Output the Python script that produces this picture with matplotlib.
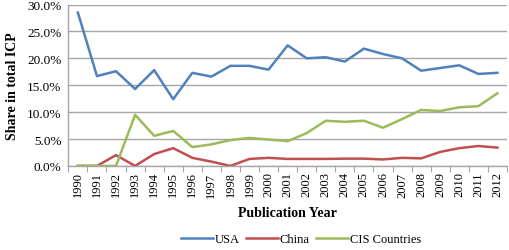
import matplotlib
matplotlib.use("Agg")
import matplotlib.pyplot as plt
from matplotlib.ticker import FuncFormatter, MultipleLocator, FixedLocator

years = [str(y) for y in range(1990, 2013)]
usa = [28.5, 16.7, 17.6, 14.3, 17.8, 12.4, 17.3, 16.6, 18.6, 18.6, 17.9, 22.4,
       20.0, 20.2, 19.4, 21.8, 20.8, 20.0, 17.7, 18.2, 18.7, 17.1, 17.3]
china = [0.0, 0.0, 2.0, 0.0, 2.2, 3.3, 1.5, 0.8, 0.0, 1.3, 1.5, 1.3,
         1.3, 1.3, 1.35, 1.35, 1.2, 1.5, 1.4, 2.6, 3.3, 3.7, 3.4]
cis = [0.0, 0.0, 0.0, 9.5, 5.6, 6.5, 3.5, 4.0, 4.8, 5.2, 4.9, 4.6,
       6.1, 8.4, 8.2, 8.4, 7.1, 8.7, 10.4, 10.2, 10.9, 11.1, 13.5]

plt.rcParams['font.family'] = ['Liberation Serif', 'DejaVu Serif']

fig = plt.figure(figsize=(5.10, 2.51), dpi=100)
ax = fig.add_axes([0.134, 0.335, 0.860, 0.643])

x = list(range(len(years)))
ax.plot(x, usa, color='#4F81BD', lw=1.8, label='USA')
ax.plot(x, china, color='#C0504D', lw=1.8, label='China')
ax.plot(x, cis, color='#9BBB59', lw=1.8, label='CIS Countries')

ax.set_xlim(-0.5, len(years) - 0.5)
ax.set_ylim(0, 30)
ax.yaxis.set_major_locator(MultipleLocator(5))
ax.yaxis.set_major_formatter(FuncFormatter(lambda v, p: f"{v:.1f}%"))
ax.grid(axis='y', color='#A6A6A6', lw=1.0)
ax.set_axisbelow(True)

ax.set_xticks(x)
ax.set_xticklabels(years, rotation=90, fontsize=9)
ax.tick_params(axis='x', which='major', length=0, pad=4)
ax.xaxis.set_minor_locator(FixedLocator([i - 0.5 for i in range(len(years) + 1)]))
ax.tick_params(axis='x', which='minor', length=4, color='#A6A6A6', width=0.8)
ax.tick_params(axis='y', length=0, labelsize=9.5, pad=5)

for s in ['top', 'right']:
    ax.spines[s].set_visible(False)
for s in ['left', 'bottom']:
    ax.spines[s].set_color('#A6A6A6')
    ax.spines[s].set_linewidth(1.0)

ax.set_xlabel('Publication Year', fontsize=10, fontweight='bold', labelpad=7)
ax.set_ylabel('Share in total ICP', fontsize=10, fontweight='bold', labelpad=6)

fig.legend(loc='lower center', bbox_to_anchor=(0.59, -0.025), ncol=3, frameon=False,
           fontsize=9, handlelength=2.6, columnspacing=0.5, handletextpad=0.1)

fig.savefig('out.png', dpi=100)
